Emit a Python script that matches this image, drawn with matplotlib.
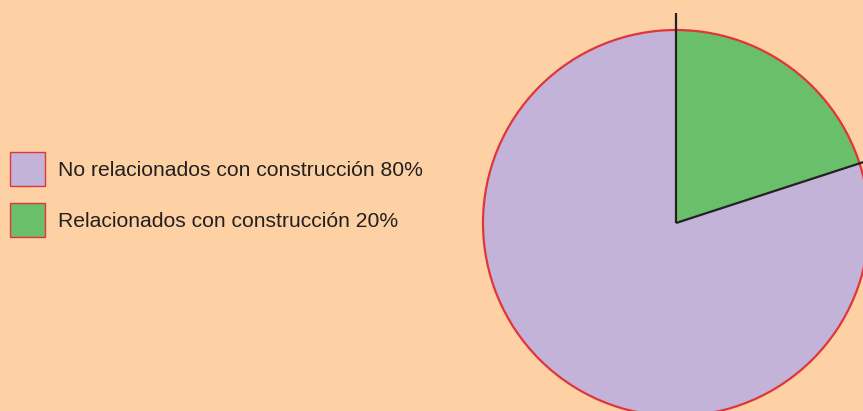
import matplotlib.pyplot as plt
from matplotlib.patches import Rectangle, Circle
import numpy as np

plt.rcParams['font.family'] = ['Liberation Sans', 'DejaVu Sans']

# data
labels = ['No relacionados con construcción 80%', 'Relacionados con construcción 20%']
values = [80, 20]
colors = ['#c3b3d8', '#6abf6a']

bg = '#fdd1a4'
edge_red = '#e0353b'

fig = plt.figure(figsize=(8.63, 4.11), dpi=100)
fig.patch.set_facecolor(bg)
ax = fig.add_axes([0, 0, 1, 1])
ax.set_facecolor(bg)

# pie
cx, cy, r = 676, 411 - 223, 193
wedges, _ = ax.pie(values, colors=colors, startangle=90, counterclock=True,
                   center=(cx, cy), radius=r, frame=True,
                   wedgeprops=dict(linewidth=0))
ax.set_xlim(0, 863)
ax.set_ylim(0, 411)
ax.set_aspect('equal')
ax.axis('off')

ax.add_patch(Circle((cx, cy), r, fill=False, edgecolor=edge_red, lw=1.6, zorder=3))

# radial boundaries of the small slice, running a bit past the rim
for w in wedges[1:]:
    for ang in (w.theta1, w.theta2):
        a = np.deg2rad(ang)
        ax.plot([cx, cx + 1.09 * r * np.cos(a)], [cy, cy + 1.09 * r * np.sin(a)],
                color='#222222', lw=1.6, zorder=4, solid_capstyle='butt')

# legend
for i, (lab, col) in enumerate(zip(labels, colors)):
    ytop = 411 - (152 + 51 * i)
    ax.add_patch(Rectangle((10, ytop - 34), 35, 34, facecolor=col,
                           edgecolor=edge_red, lw=1.0, zorder=3))
    ax.text(58, ytop - 24, lab, fontsize=15.2, color='#231f20',
            va='baseline', ha='left')

fig.savefig('out.png', dpi=100, facecolor=bg)
